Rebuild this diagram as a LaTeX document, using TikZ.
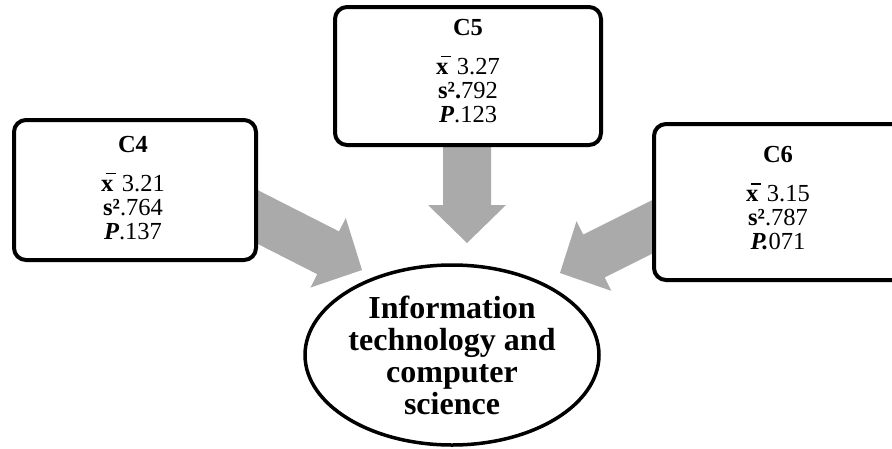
\documentclass[tikz,border=0pt]{standalone}
\usepackage{fontspec}
\setmainfont{Liberation Serif}
\usetikzlibrary{shapes.geometric,calc}

\definecolor{arrowgray}{RGB}{170,170,170}

% bold x with an overbar (sample mean)
\newcommand\xmean{\textbf{x}\kern0.1em\llap{\raisebox{0.7em}{\rule{0.4em}{0.065em}}}}

% broad block arrow from start coordinate #1 to tip coordinate #2
\newcommand\blockarrow[2]{%
  \coordinate (#1-neck) at ($(#2)!38pt!(#1)$);
  \fill[arrowgray]
    ($(#1)!24pt!90:(#2)$) -- ($(#1-neck)!24pt!90:(#2)$) --
    ($(#1-neck)!39pt!90:(#2)$) -- (#2) --
    ($(#1-neck)!39pt!-90:(#2)$) -- ($(#1-neck)!24pt!-90:(#2)$) --
    ($(#1)!24pt!-90:(#2)$) -- cycle;}

\tikzset{
  card/.style={draw=black, line width=4pt, rounded corners=12pt, fill=white,
    inner sep=0pt, outer sep=0pt},
  cardtext/.style={align=center, inner sep=0pt, anchor=north,
    font=\fontsize{24.5}{24}\selectfont},
  topic/.style={ellipse, draw=black, line width=3.5pt, fill=white, inner sep=0pt,
    minimum width=294pt, minimum height=180pt, align=center,
    font=\fontsize{32}{32}\selectfont\bfseries}
}

\begin{document}
\begin{tikzpicture}[x=1pt,y=1pt]
\useasboundingbox (0,0) rectangle (892,-448);

% arrow ends (starts hidden behind the cards)
\coordinate (s4) at (240,-208);
\coordinate (t4) at (362,-270);
\coordinate (s5) at (467,-140);
\coordinate (t5) at (467,-243);
\coordinate (s6) at (670,-218);
\coordinate (t6) at (560,-273);

\blockarrow{s4}{t4}
\blockarrow{s5}{t5}
\blockarrow{s6}{t6}

% cards (the right-hand one runs past the edge)
\node[card, minimum width=242pt, minimum height=140pt] (c4) at (135,-190) {};
\node[card, minimum width=266pt, minimum height=138pt] (c5) at (468,-76) {};
\node[card, minimum width=262pt, minimum height=156pt] (c6) at (785,-202) {};

\node[cardtext] (c4text) at (133,-136)
  {\textbf{C4}\\[15pt]\xmean\ 3.21\\\textbf{s²}.764\\\textbf{\textit{P}}.137};
\node[cardtext] (c5text) at (468,-19)
  {\textbf{C5}\\[15pt]\xmean\ 3.27\\\textbf{s².}792\\\textbf{\textit{P}}.123};
\node[cardtext] (c6text) at (778,-146.5)
  {\textbf{C6}\\[15pt]\xmean\ 3.15\\\textbf{s²}.787\\\textbf{\textit{P.}}071};

% central topic
\node[topic] (it) at (452,-355)
  {Information\\technology and\\computer\\science};
\end{tikzpicture}
\end{document}
